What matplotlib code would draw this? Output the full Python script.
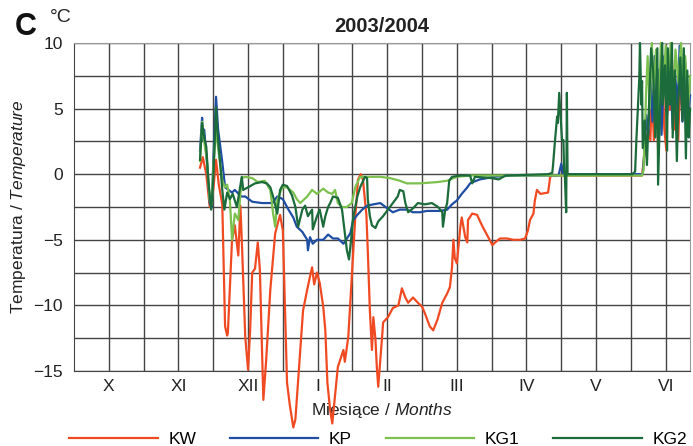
import matplotlib
matplotlib.use("Agg")
import matplotlib.pyplot as plt

plt.rcParams['font.family'] = ['Liberation Sans', 'DejaVu Sans']
plt.rcParams['mathtext.fontset'] = 'custom'
plt.rcParams['mathtext.rm'] = 'Liberation Sans'
plt.rcParams['mathtext.it'] = 'Liberation Sans:italic'

# x in months since 1 October 2003 (0 = start of X), temperatures in degC
months = ["X", "XI", "XII", "I", "II", "III", "IV", "V", "VI"]

kw_x = [1.81, 1.85, 1.90, 1.95, 2.00, 2.04, 2.08, 2.13, 2.17, 2.20, 2.21, 2.27, 2.31, 2.36,
        2.39, 2.41, 2.46, 2.50, 2.53, 2.56, 2.60, 2.64, 2.67, 2.72, 2.76, 2.82, 2.89, 2.96,
        3.00, 3.06, 3.10, 3.15, 3.18, 3.22, 3.25, 3.29, 3.35, 3.39, 3.42, 3.45, 3.49, 3.53,
        3.58, 3.61, 3.64, 3.68, 3.71, 3.74, 3.79, 3.84, 3.87, 3.89, 3.94, 3.99, 4.04, 4.08,
        4.12, 4.15, 4.20, 4.22, 4.25, 4.28, 4.30, 4.33, 4.35, 4.37, 4.40, 4.43, 4.44, 4.51,
        4.58, 4.66, 4.71, 4.76, 4.80, 4.87, 4.94, 5.00, 5.04, 5.11, 5.16, 5.22, 5.29, 5.36,
        5.40, 5.43, 5.45, 5.47, 5.50, 5.55, 5.57, 5.62, 5.65, 5.66, 5.72, 5.79, 5.86, 5.93,
        6.01, 6.05, 6.12, 6.22, 6.31, 6.41, 6.48, 6.52, 6.55, 6.60, 6.62, 6.65, 6.70, 6.81,
        6.84, 6.87, 7.50, 8.16, 8.20, 8.25, 8.28, 8.30, 8.33, 8.36, 8.39, 8.42, 8.45, 8.48,
        8.51, 8.53, 8.56, 8.59, 8.62, 8.65, 8.68, 8.71, 8.74, 8.76, 8.79, 8.84]
kw_t = [0.5, 1.3, 0.0, -2.5, -1.2, 1.1, -0.8, -2.3, -11.6, -12.3, -12.1, -5.0, -3.9, -6.2,
        -2.4, -5.0, -12.4, -14.9, -11.9, -7.5, -7.2, -5.2, -7.3, -17.2, -14.2, -8.8, -4.5, -3.1,
        -4.3, -15.9, -17.6, -19.3, -18.7, -15.7, -13.4, -10.4, -8.8, -7.8, -7.1, -8.4, -7.5, -8.3,
        -10.1, -11.9, -15.9, -18.0, -19.0, -17.4, -14.7, -13.9, -13.4, -14.3, -12.4, -7.8, -3.3, -0.4,
        0.0, -0.4, -3.1, -5.8, -10.4, -13.4, -10.9, -12.6, -14.7, -16.2, -14.2, -12.1, -11.3, -10.9,
        -10.2, -10.0, -8.7, -9.4, -9.8, -9.4, -9.8, -10.1, -10.6, -11.6, -11.9, -11.1, -9.8, -9.1,
        -8.6, -7.1, -5.0, -6.4, -6.8, -4.0, -3.3, -4.8, -5.2, -3.5, -3.0, -3.1, -3.9, -4.6,
        -5.4, -5.2, -4.9, -4.9, -5.0, -5.0, -4.9, -4.3, -3.5, -3.0, -2.0, -1.2, -1.5, -1.4,
        -0.2, -0.1, -0.1, -0.1, 1.8, 3.4, 2.6, 6.4, 2.6, 8.7, 1.8, 5.7, 8.7, 3.4,
        1.8, 7.9, 4.9, 8.7, 3.4, 6.4, 2.6, 7.9, 4.1, 8.7, 5.7, 4.1]

kp_x = [1.81, 1.84, 1.85, 1.87, 1.91, 1.95, 1.98, 2.00, 2.04, 2.07, 2.13, 2.17, 2.27, 2.31,
        2.40, 2.46, 2.56, 2.70, 2.85, 2.92, 3.00, 3.08, 3.15, 3.20, 3.28, 3.35, 3.36, 3.39,
        3.43, 3.49, 3.58, 3.65, 3.72, 3.79, 3.87, 3.92, 3.97, 4.01, 4.07, 4.14, 4.21, 4.30,
        4.40, 4.50, 4.58, 4.68, 4.78, 4.87, 4.97, 5.07, 5.16, 5.26, 5.36, 5.43, 5.50, 5.57,
        5.65, 5.69, 5.73, 5.83, 5.93, 6.02, 6.30, 6.90, 6.96, 7.00, 7.03, 8.17, 8.19, 8.22,
        8.25, 8.28, 8.31, 8.34, 8.37, 8.41, 8.44, 8.48, 8.52, 8.56, 8.60, 8.63, 8.67, 8.70,
        8.74, 8.78, 8.82, 8.85]
kp_t = [1.8, 4.3, 2.6, 3.4, 0.9, -2.2, -2.5, 0.9, 5.9, 3.4, 0.9, -1.0, -1.4, -1.2,
        -1.7, -1.7, -2.1, -2.2, -2.2, -1.7, -1.9, -2.7, -3.3, -4.0, -4.4, -5.0, -5.8, -4.8,
        -5.3, -5.0, -5.0, -4.6, -4.9, -4.9, -5.3, -4.9, -4.5, -3.5, -3.1, -2.7, -2.4, -2.3,
        -2.2, -2.6, -2.9, -2.7, -2.7, -2.9, -2.9, -2.8, -2.8, -2.8, -2.7, -2.3, -2.0, -1.5,
        -1.0, -0.7, -0.6, -0.4, -0.3, -0.2, -0.1, -0.1, -0.1, 0.8, 0.0, 0.0, 1.5, 4.5,
        3.0, 7.5, 4.0, 9.0, 3.5, 8.0, 3.0, 9.0, 4.5, 8.5, 3.5, 8.0, 5.0, 9.8,
        4.0, 8.5, 4.5, 6.0]

kg1_x = [1.81, 1.84, 1.87, 1.91, 1.95, 1.98, 2.00, 2.04, 2.07, 2.13, 2.17, 2.20, 2.24, 2.27,
         2.31, 2.36, 2.39, 2.41, 2.46, 2.56, 2.64, 2.74, 2.82, 2.86, 2.89, 2.92, 2.99, 3.06,
         3.15, 3.20, 3.25, 3.35, 3.42, 3.49, 3.58, 3.65, 3.71, 3.75, 3.79, 3.85, 3.92, 3.99,
         4.04, 4.11, 4.40, 4.54, 4.68, 4.78, 4.97, 5.22, 5.36, 5.50, 5.69, 8.16, 8.18, 8.20,
         8.22, 8.24, 8.27, 8.30, 8.33, 8.36, 8.40, 8.43, 8.47, 8.50, 8.54, 8.57, 8.61, 8.64,
         8.68, 8.72, 8.75, 8.78, 8.82, 8.85]
kg1_t = [1.0, 4.0, 2.5, 1.0, -2.0, -2.3, 0.5, 3.5, 2.0, -0.5, -1.0, -0.8, -2.0, -5.0,
         -3.0, -3.5, -1.5, -0.3, -0.2, -0.3, -0.6, -0.5, -1.2, -3.0, -4.0, -2.0, -1.0, -1.0,
         -1.4, -1.9, -2.2, -1.7, -1.2, -1.5, -1.1, -1.4, -1.5, -1.2, -2.2, -2.5, -2.5, -2.2,
         -1.0, -0.2, -0.2, -0.3, -0.5, -0.7, -0.7, -0.6, -0.5, -0.2, -0.1, -0.1, 0.3, 3.0,
         6.5, 9.0, 5.0, 10.0, 6.0, 9.5, 4.5, 10.0, 7.0, 9.8, 5.5, 10.0, 6.0, 9.5,
         7.0, 10.0, 6.5, 9.0, 5.0, 7.5]

kg2_x = [1.81, 1.84, 1.87, 1.90, 1.93, 1.97, 2.00, 2.04, 2.07, 2.10, 2.13, 2.16, 2.20, 2.24,
         2.28, 2.34, 2.41, 2.43, 2.50, 2.60, 2.70, 2.77, 2.82, 2.86, 2.92, 2.96, 3.00, 3.06,
         3.13, 3.18, 3.22, 3.28, 3.32, 3.36, 3.42, 3.43, 3.49, 3.53, 3.58, 3.61, 3.65, 3.68,
         3.72, 3.79, 3.85, 3.89, 3.92, 3.95, 3.98, 4.01, 4.07, 4.11, 4.18, 4.21, 4.22, 4.25,
         4.28, 4.33, 4.37, 4.44, 4.51, 4.58, 4.65, 4.68, 4.73, 4.76, 4.80, 4.87, 4.94, 5.04,
         5.14, 5.23, 5.29, 5.30, 5.33, 5.36, 5.39, 5.43, 5.55, 5.69, 5.72, 5.76, 6.00, 6.10,
         6.20, 6.81, 6.87, 6.88, 6.91, 6.94, 6.95, 6.97, 7.00, 7.01, 7.03, 7.04, 7.05, 7.07,
         7.08, 7.09, 8.02, 8.06, 8.08, 8.12, 8.13, 8.15, 8.16, 8.17, 8.20, 8.23, 8.25, 8.29,
         8.32, 8.35, 8.38, 8.39, 8.42, 8.45, 8.46, 8.49, 8.52, 8.53, 8.56, 8.59, 8.60, 8.63,
         8.66, 8.68, 8.71, 8.74, 8.76, 8.79, 8.81, 8.83, 8.85]
kg2_t = [1.1, 3.9, 2.8, 2.1, -0.5, -2.7, -0.5, 5.1, 2.6, 0.8, -1.2, -2.7, -1.4, -1.9,
         -1.5, -2.5, -0.2, -1.2, -1.0, -0.7, -0.6, -0.7, -1.0, -1.7, -3.0, -1.2, -0.8, -0.9,
         -1.6, -2.5, -4.0, -2.7, -2.4, -3.2, -2.7, -4.2, -3.2, -2.7, -4.0, -3.2, -2.5, -2.2,
         -1.7, -1.8, -2.7, -4.5, -5.8, -6.5, -5.0, -3.3, -1.7, -1.0, -0.2, -0.3, -1.9, -3.2,
         -3.9, -4.1, -3.6, -3.2, -2.7, -2.2, -1.7, -1.2, -1.3, -2.2, -2.9, -2.6, -2.2, -2.3,
         -2.2, -2.5, -2.9, -4.0, -2.8, -2.2, -0.5, -0.2, -0.1, -0.1, -0.7, -0.2, -0.3, -0.4,
         -0.1, 0.0, 0.1, 0.6, 2.6, 4.4, 3.9, 6.2, 3.4, 2.6, 2.6, 0.3, 0.0, -2.9,
         6.2, 0.0, 0.0, 0.2, 2.8, 7.3, 10.0, 5.3, 7.1, 2.0, 4.1, 0.7, 3.8, 9.6,
         7.9, 2.8, 9.6, -0.8, 5.3, 10.0, 5.3, 8.3, 1.8, 9.6, 5.3, 10.0, 2.8, 7.9,
         1.0, 5.3, 8.9, 4.1, 9.6, 1.2, 7.9, 2.8, 5.0]

fig = plt.figure(figsize=(6.93, 4.46), dpi=100)
ax = fig.add_axes([0.1068, 0.1682, 0.889, 0.7354])

lw = 1.6
ax.plot(kw_x, kw_t, color="#f04a22", lw=lw, label="KW", clip_on=False, zorder=3)
ax.plot(kp_x, kp_t, color="#1f4ea3", lw=lw, label="KP", clip_on=False, zorder=4)
ax.plot(kg1_x, kg1_t, color="#7cc04e", lw=lw, label="KG1", clip_on=False, zorder=5)
ax.plot(kg2_x, kg2_t, color="#1b6b3b", lw=lw, label="KG2", clip_on=False, zorder=6)

ax.set_xlim(0, 8.85)
ax.set_ylim(-15, 10)
ax.set_yticks([-15, -10, -5, 0, 5, 10])
ax.set_yticks([-12.5, -7.5, -2.5, 2.5, 7.5], minor=True)
ax.set_xticks([i for i in range(1, 9)])
ax.set_xticklabels([])
ax.set_xticks([i + 0.5 for i in range(9)], minor=True)
ax.set_xticklabels(months, minor=True)
ax.tick_params(axis="both", which="both", length=0, labelsize=12.5, colors="#222222")
ax.tick_params(axis="x", which="minor", pad=6)
ax.tick_params(axis="y", pad=8)
ax.grid(True, which="both", color="#444444", lw=1.0, zorder=1)
for s in ["left", "bottom"]:
    ax.spines[s].set_color("#444444")
for s in ["top", "right"]:
    ax.spines[s].set_color("#999999")

ax.set_xlabel(r"Miesiące / $\mathit{Months}$", fontsize=12.5, labelpad=5, color="#222222")
ax.set_ylabel(r"Temperatura / $\mathit{Temperature}$", fontsize=12.5, labelpad=4, color="#222222")
ax.set_title("2003/2004", fontsize=14.5, fontweight="bold", pad=8, color="#222222")

fig.text(0.021, 0.94, "C", fontsize=22, fontweight="bold", va="center", color="#111111")
fig.text(0.072, 0.96, "°C", fontsize=14, va="center", color="#222222")

ax.legend(loc="upper center", bbox_to_anchor=(0.4935, -0.165), ncol=4, frameon=False,
          fontsize=12.5, handlelength=5.1, handletextpad=0.6, columnspacing=1.95,
          borderaxespad=0)

fig.savefig("out.png", dpi=100)
